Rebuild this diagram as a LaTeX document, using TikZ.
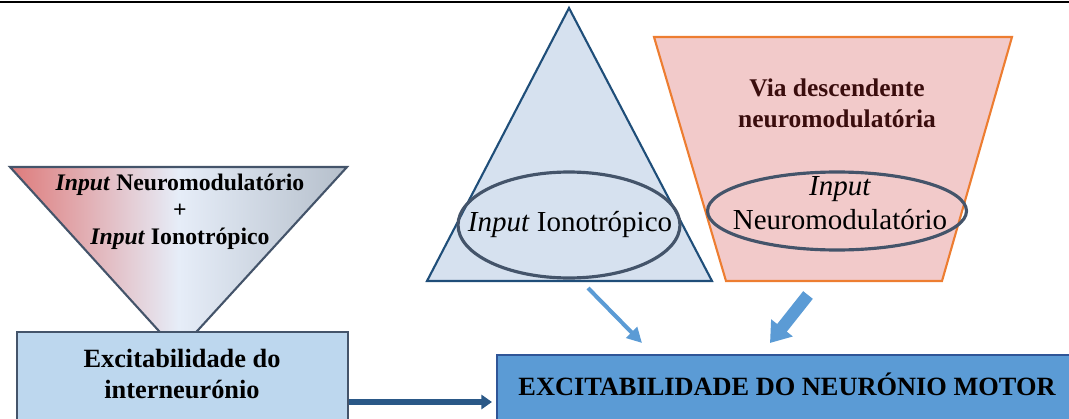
\documentclass[tikz,border=0pt]{standalone}
\usepackage{fontspec}
\setmainfont{Liberation Serif}
\usetikzlibrary{positioning, arrows.meta, shapes.geometric}
\definecolor{slate}{HTML}{44546A}
\definecolor{navy}{HTML}{1F4E79}
\definecolor{paleblue}{HTML}{D6E1EF}
\definecolor{boxblue}{HTML}{BDD7EE}
\definecolor{motorblue}{HTML}{5B9BD5}
\definecolor{motoredge}{HTML}{2F5597}
\definecolor{pinkfill}{HTML}{F2CACA}
\definecolor{orangeedge}{HTML}{ED7D31}
\definecolor{darkred}{HTML}{3A0D0D}
\definecolor{gradred}{HTML}{DE7B7B}
\definecolor{gradmid}{HTML}{E6EDF8}
\definecolor{gradgrey}{HTML}{B5BFCB}
\definecolor{arrowdark}{HTML}{2A5887}

\begin{document}
\begin{tikzpicture}[
  x=0.02cm, y=-0.02cm,
  ebox/.style={draw, line width=1.2pt, inner sep=0pt},
  oval/.style={draw=slate, ellipse, line width=1.8pt, inner sep=0pt},
  btxt/.style={font=\fontsize{15}{18}\selectfont\bfseries, align=center},
  rtxt/.style={font=\fontsize{16.5}{19.3}\selectfont, align=center},
  thinarr/.style={-{Triangle[length=8.5pt, width=8.5pt]}, line width=2.3pt, draw=motorblue},
  thickarr/.style={-{Triangle[length=11pt, width=15pt]}, line width=7pt, draw=motorblue},
  harr/.style={-{Triangle[length=6pt, width=8pt]}, line width=3.4pt, draw=arrowdark, shorten >=2.3pt},
]
\useasboundingbox (0,0) rectangle (1069,419);
\clip (0,0) rectangle (1069,419);
\draw[line width=1.7pt] (0,2) -- (1069,2);
% ---- mixed input funnel + interneuron ----
\shade[left color=gradred, right color=gradgrey, middle color=gradmid]
  (10,167) -- (347,167) -- (178,352) -- cycle;
\draw[slate, line width=1.2pt] (10,167) -- (347,167) -- (178,352) -- cycle;
\node[font=\fontsize{13.5}{15.3}\selectfont\bfseries, align=center] (mixtxt) at (180,212)
  {\textit{Input} Neuromodulatório\\+\\\textit{Input} Ionotrópico};
\node[ebox, draw=slate, fill=boxblue, minimum width=6.62cm, minimum height=2.8cm] (inter) at (182.5,402) {};
\node[btxt] (intertxt) at (182,374) {Excitabilidade do\\interneurónio};
% ---- ionotropic input ----
\draw[navy, fill=paleblue, line width=1.2pt] (569,8) -- (712,281) -- (427,281) -- cycle;
\node[oval, minimum width=4.44cm, minimum height=2.12cm] (iono) at (569,225) {};
\node[rtxt] (ionotxt) at (570,225) {\textit{Input} Ionotrópico};
% ---- descending neuromodulatory pathway ----
\draw[orangeedge, fill=pinkfill, line width=1.2pt] (654,37) -- (1012,37) -- (942,281) -- (726,281) -- cycle;
\node[font=\fontsize{14.5}{17.6}\selectfont\bfseries, text=darkred, align=center] (viatxt) at (837,103)
  {Via descendente\\neuromodulatória};
\node[oval, minimum width=5.18cm, minimum height=1.56cm] (neuro) at (837,211) {};
\node[rtxt] (neurotxt) at (840,203) {\textit{Input}\\Neuromodulatório};
% ---- motor neuron ----
\node[ebox, draw=motoredge, fill=motorblue, minimum width=11.86cm, minimum height=1.88cm] (motor) at (793.5,402) {};
\node[btxt] (motortxt) at (787,384) {EXCITABILIDADE DO NEURÓNIO MOTOR};
% ---- arrows ----
\coordinate (ionoout) at (588,288);
\coordinate (ionoin) at (642,343);
\coordinate (viaout) at (808,295);
\coordinate (viain) at (770,343);
\draw[thinarr] (ionoout) -- (ionoin);
\draw[thickarr] (viaout) -- (viain);
\draw[harr] (inter.east) -- (motor.west);
\end{tikzpicture}
\end{document}
